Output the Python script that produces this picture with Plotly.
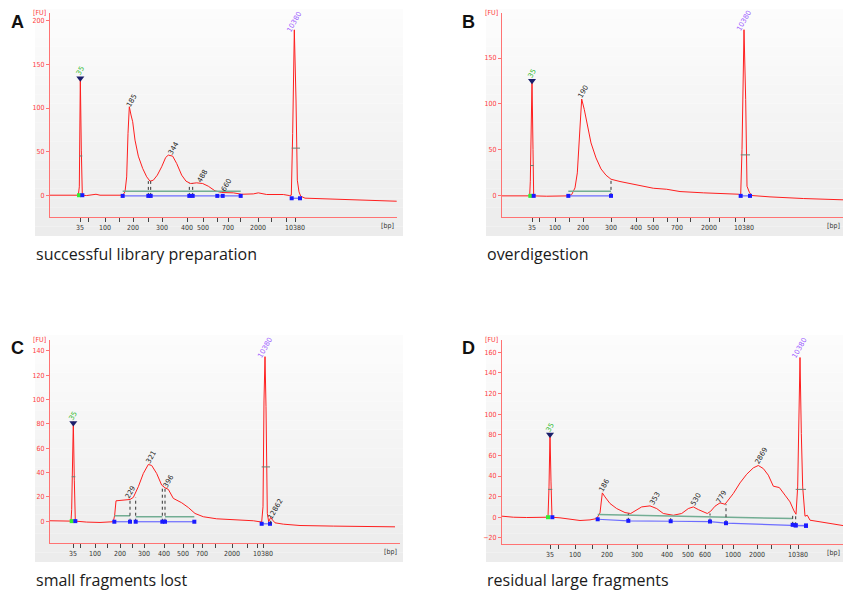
import plotly.graph_objects as go

W, H = 843, 591

# ---------------- DATA ----------------
# Ladder (High Sensitivity DNA) labels; "" = tick without label
ladder_labels_A = ["35", "", "100", "", "200", "", "300", "400", "500", "", "700", "", "2000", "", "", "10380"]
ladder_time_A = [47.5, 49.5, 53.75, 57.25, 60.75, 64.5, 68.0, 74.25, 78.25, 81.75, 84.5, 87.5, 92.0, 95.25, 99.0, 101.25]
ladder_labels_B = ["35", "", "100", "", "200", "300", "400", "500", "", "700", "", "2000", "", "", "10380"]
ladder_time_B = [47.5, 49.25, 53.25, 56.75, 60.25, 67.25, 73.5, 77.75, 81.25, 83.75, 87.0, 91.75, 94.25, 98.25, 100.5]
ladder_labels_C = ["35", "", "100", "", "200", "", "300", "400", "500", "", "700", "", "2000", "", "", "10380"]
ladder_time_C = [45.75, 47.5, 51.25, 54.25, 57.5, 60.5, 63.5, 68.5, 73.25, 75.75, 78.0, 81.25, 85.5, 89.25, 91.75, 93.25]
ladder_labels_D = ["35", "", "100", "", "200", "300", "400", "500", "600", "", "1000", "2000", "", "", "10380"]
ladder_time_D = [52.0, 54.0, 58.25, 62.5, 66.25, 73.75, 81.25, 86.5, 90.75, 95.0, 97.75, 103.75, 107.25, 112.0, 114.0]

# Electropherogram traces: migration time [s] and fluorescence [FU]
a_time = [40, 44.17, 47.08, 47.33, 47.58, 47.83, 48.08, 49.17, 50.83, 51.5, 52.5, 55.83, 58.17, 58.75,
          59.17, 59.5, 59.83, 60.25, 60.67, 61.25, 62.08, 63.17, 64.17, 65.0, 65.83, 66.83, 67.92, 68.92,
          69.58, 70.67, 71.67, 72.92, 74.0, 75.17, 76.67, 78.17, 79.58, 81.25, 82.92, 85.83, 87.92, 90.83,
          92.08, 94.17, 98.33, 99.83, 100.33, 100.67, 101.08, 101.5, 101.83, 102.25, 102.67, 103.75,
          110.83, 119.17, 126.67]
a_fu = [0, -0.4, 0, 9.6, 135.2, 51.7, 0, -0.4, 0.8, 1.1, 0, -0.4, 0, 3.8,
        21, 70.9, 101.5, 92, 84.3, 63.2, 44.8, 30.7, 21.1, 16.1, 17.2, 23, 32.6, 43.3,
        46, 44.8, 36.4, 23, 16.1, 13.4, 14.2, 13.4, 10.3, 5, 3.1, 2.7, 1.1, 1.5,
        2.7, 0.8, 0.8, -0.4, 0, 70.9, 189.7, 109.2, 17.2, 3.8, -1.1, -3.4,
        -4.6, -5.7, -6.9]

b_time = [40, 44.5, 46.92, 47.08, 47.25, 47.5, 47.75, 47.92, 51.17, 56.58, 57.42, 58.25, 58.83, 59.33,
          59.92, 60.58, 61.42, 62.25, 63.5, 64.75, 66.0, 67.25, 69.5, 73.67, 77.83, 81.17, 84.5, 90.33,
          99.08, 99.67, 100.0, 100.5, 100.92, 101.25, 101.83, 102.42, 107.0, 115.33, 125.25]
b_fu = [0, 0, 0, 15.9, 68.5, 126.4, 50.4, 0, -0.4, 0, 1.4, 8.7, 25, 68.5,
        105.4, 93.8, 73.9, 57.6, 41.3, 29.3, 22.5, 18.1, 15.6, 12, 8.3, 7.2, 4.7, 3.3,
        1.8, 0.4, 50.4, 180.8, 104.7, 10.5, 4, 0.4, -1.1, -2.9, -4.3]

c_time = [40, 44.17, 45.25, 45.42, 45.58, 45.83, 46.08, 46.33, 49.17, 52.5, 55.83, 56.17, 56.5, 57.92,
          60.0, 60.83, 62.08, 63.33, 64.58, 65.42, 66.67, 67.92, 68.75, 69.58, 70.83, 72.92, 74.58,
          76.25, 78.33, 81.67, 85.83, 90.83, 92.92, 93.25, 93.5, 93.75, 94.0, 94.33, 94.67, 95.17,
          95.67, 96.25, 98.33, 102.5, 110.83, 126.25]
c_fu = [0.3, 0, 0, 9.6, 44.7, 81.8, 33.7, 0, -0.8, -1.1, -0.5, 4.9, 16.7, 17.3,
        17.8, 19.5, 28.3, 39.2, 46.6, 45.8, 39.2, 29.6, 27.4, 26.1, 18.7, 15.1, 11.2,
        6.3, 3.6, 1.9, 1.1, 0.3, -0.8, 11.8, 99.6, 135.3, 94.1, 6.3, -0.5, 3,
        0.8, -1.4, -2.5, -3.6, -4.1, -4.7]

d_time = [40, 42.83, 46.17, 50.33, 51.5, 51.75, 52.0, 52.25, 52.5, 54.5, 57.0, 59.5, 62.0, 63.67,
          64.5, 65.08, 65.75, 67.0, 68.67, 70.75, 72.17, 73.67, 74.92, 77.0, 78.67, 80.33, 82.83,
          84.92, 86.58, 87.83, 89.08, 91.33, 92.17, 93.25, 94.5, 95.75, 96.58, 97.83, 99.5, 101.17,
          102.83, 104.08, 105.33, 106.58, 107.83, 109.33, 110.75, 112.0, 113.0, 113.5, 113.92, 114.17,
          114.5, 114.83, 115.17, 115.75, 116.33, 117.0, 119.5, 125.25]
d_fu = [1, 0, -0.3, -0.6, 0, 29.4, 81.2, 34.3, 0, -0.6, -1.9, -3.2, -2.6, -1.3,
        4.2, 23.6, 19.7, 13.3, 8.4, 4.5, 3.6, 6.8, 10, 11, 8.4, 3.6, 1.9,
        3.6, 8.4, 10, 7.4, 3.6, 5.8, 10.7, 13.9, 12.6, 16.5, 23, 33.3, 41.7,
        47.9, 50.2, 47.2, 40.8, 30.1, 28.8, 21.4, 14.9, 6.1, 2.9, 29.4, 81.2,
        155, 81.2, 29.4, 1, 1.9, -2.9, -4.5, -8.1]

# Peak calls (size labels): time, FU position, text
a_peak_t = [60.4, 71.0, 78.2, 84.2]
a_peak_fu = [108.4, 54, 22, 11.5]
a_peak_txt = ["185", "344", "488", "660"]
b_peak_t = [60.3]
b_peak_fu = [113]
b_peak_txt = ["190"]
c_peak_t = [60.0, 65.4, 69.75, 96.5]
c_peak_fu = [23.3, 52.4, 32.9, 9.6]
c_peak_txt = ["229", "321", "396", "12862"]
d_peak_t = [65.75, 78.25, 88.5, 94.9, 104.9]
d_peak_fu = [30.8, 17.5, 16.5, 19.7, 59.2]
d_peak_txt = ["186", "353", "530", "779", "2869"]

# Markers (lower 35 bp, upper 10380 bp): peak time, peak FU, label FU, half-height FU,
# marker window start/end time, baseline FU
marker_low = {"A": (47.58, 135.2, 142.5, 45, 47.25, 48.08, 0),
              "B": (47.5, 126.4, 132.6, 33, 47.08, 47.92, 0),
              "C": (45.83, 81.8, 86.4, 36.5, 45.42, 46.33, 0),
              "D": (52.0, 81.2, 86.7, 27, 51.5, 52.58, 0)}
marker_up = {"A": (101.08, 189.7, 199, 54, 100.42, 102.5, -3.5),
             "B": (100.5, 180.8, 190.5, 44.6, 99.67, 102.0, 0),
             "C": (93.75, 135.3, 142.6, 44.6, 92.92, 95.0, -2.2),
             "D": (114.5, 155, 163.8, 27, 113.42, 116.0, -8.0)}

# Smear/region analysis: boundaries, green region level, blue baseline level
a_region_t = [58.17, 64.58, 65.17, 74.83, 75.67, 81.83, 83.17, 87.67]
a_region_top = [16.1, 16.1, 13.4, 13.4]
a_green = 4.6
a_blue = -0.8
b_region_t = [56.58, 67.25]
b_green = 5
b_blue = 0
c_region_t = [56.08, 60.0, 61.42, 68.08, 68.75, 76.08]
c_region_top = [17.8, 19.5, 29.0, 27.4]
c_green = [4.4, 3.6, 3.6]
c_blue = -0.5
d_region_t = [63.92, 71.58, 82.17, 92.0, 96.0, 112.67, 113.42, 116.0]
d_region_blue = [-2.0, -3.5, -3.9, -4.2, -5.8, -7.4, -7.8, -8.4]
d_region_top = [3.6, 1.9, 3.6, 12.6, 3.0, 1.0]
d_green = [2.6, -1.3]

captions = ["successful library preparation", "overdigestion", "small fragments lost", "residual large fragments"]
letters = ["A", "B", "C", "D"]

# ---------------- LAYOUT GEOMETRY (pixels) ----------------
def px(x):
    return x / W

def py(y):
    return 1 - y / H

panels = {
    "A": dict(ax="x", ay="y", dom_x=(50, 397), dom_y=(13, 217), xr=(40, 126.75), yr=(-25, 209),
              yt=[0, 50, 100, 150, 200], bg=(35, 403, 9, 236), bp_x=397),
    "B": dict(ax="x2", ay="y2", dom_x=(502, 843), dom_y=(13, 217), xr=(40, 125.25), yr=(-23, 199),
              yt=[0, 50, 100, 150], bg=(486, 843, 9, 236), bp_x=843),
    "C": dict(ax="x3", ay="y3", dom_x=(50, 400), dom_y=(340, 543), xr=(40, 127.5), yr=(-18, 149),
              yt=[0, 20, 40, 60, 80, 100, 120, 140], bg=(35, 403, 335, 562), bp_x=400),
    "D": dict(ax="x4", ay="y4", dom_x=(502, 843), dom_y=(340, 544), xr=(40, 125.25), yr=(-26, 172),
              yt=[-20, 0, 20, 40, 60, 80, 100, 120, 140, 160], bg=(486, 843, 335, 562), bp_x=843),
}

RED = "#ff1f1f"
AXRED = "#ff7373"
GREEN_LINE = "#72ad93"
BLUE_LINE = "#6c6cff"
BLUE_PT = "#1a1aff"
HALF_TICK = "#6d7f72"

fig = go.Figure()
layout = dict(width=W, height=H, margin=dict(l=0, r=0, t=0, b=0), paper_bgcolor="white",
              plot_bgcolor="rgba(0,0,0,0)", showlegend=False, hovermode=False, shapes=[], annotations=[])

# gradient backgrounds
for key, p in panels.items():
    x0, x1, y0, y1 = p["bg"]
    n = 24
    for i in range(n):
        f = i / (n - 1)
        c = int(round(252 - 16 * f))
        layout["shapes"].append(dict(type="rect", xref="paper", yref="paper", layer="below",
                                     x0=px(x0), x1=px(x1),
                                     y0=py(y0 + (y1 - y0) * (i + 1) / n), y1=py(y0 + (y1 - y0) * i / n),
                                     fillcolor=f"rgb({c},{c},{c})", line=dict(width=0)))

ladders = {"A": (ladder_time_A, ladder_labels_A), "B": (ladder_time_B, ladder_labels_B),
           "C": (ladder_time_C, ladder_labels_C), "D": (ladder_time_D, ladder_labels_D)}
traces = {"A": (a_time, a_fu), "B": (b_time, b_fu), "C": (c_time, c_fu), "D": (d_time, d_fu)}
peaks = {"A": (a_peak_t, a_peak_fu, a_peak_txt), "B": (b_peak_t, b_peak_fu, b_peak_txt),
         "C": (c_peak_t, c_peak_fu, c_peak_txt), "D": (d_peak_t, d_peak_fu, d_peak_txt)}

for idx, (key, p) in enumerate(panels.items()):
    xa, ya = p["ax"], p["ay"]
    xname = "xaxis" + xa[1:]
    yname = "yaxis" + ya[1:]
    lt, ll = ladders[key]
    layout[xname] = dict(domain=[px(p["dom_x"][0]), px(p["dom_x"][1])], range=list(p["xr"]),
                         anchor=ya, showgrid=False, zeroline=False, showline=True, linecolor=AXRED,
                         linewidth=1, tickmode="array", tickvals=lt, ticktext=ll, ticks="outside",
                         ticklen=4, tickcolor="#444", tickwidth=1,
                         tickfont=dict(size=7, color="#333", family="DejaVu Sans Condensed, DejaVu Sans"),
                         fixedrange=True)
    layout[yname] = dict(domain=[py(p["dom_y"][1]), py(p["dom_y"][0])], range=list(p["yr"]),
                         anchor=xa, showgrid=False, zeroline=False, showline=True, linecolor=AXRED,
                         linewidth=1, tickmode="array", tickvals=p["yt"], ticks="outside", ticklen=3,
                         tickcolor=AXRED, tickfont=dict(size=7, color="#ff3b3b",
                                                        family="DejaVu Sans Condensed, DejaVu Sans"),
                         fixedrange=True)

    t, fu = traces[key]
    fig.add_trace(go.Scatter(x=t, y=fu, xaxis=xa, yaxis=ya, mode="lines",
                             line=dict(color=RED, width=1), hoverinfo="skip"))

    for which, mk, txtcol in (("35", marker_low[key], "#33bb33"), ("10380", marker_up[key], "#9d5cff")):
        tpk, fpk, flab, fhalf, ts, te, fb = mk
        fig.add_trace(go.Scatter(x=[ts, te], y=[fhalf, fhalf], xaxis=xa, yaxis=ya, mode="lines",
                                 line=dict(color=HALF_TICK, width=1), hoverinfo="skip"))
        layout["annotations"].append(dict(x=tpk, y=flab, xref=xa, yref=ya, text=which,
                                          showarrow=False, textangle=-60,
                                          font=dict(size=7, color=txtcol, family="DejaVu Sans")))
    lo = marker_low[key]
    fig.add_trace(go.Scatter(x=[lo[0]], y=[lo[1] - 1], xaxis=xa, yaxis=ya, mode="markers",
                             marker=dict(symbol="triangle-down", size=7, color="#1b1f6b"), hoverinfo="skip"))
    fig.add_trace(go.Scatter(x=[lo[4]], y=[lo[6]], xaxis=xa, yaxis=ya, mode="markers",
                             marker=dict(symbol="square", size=4, color="#33ee33"), hoverinfo="skip"))
    fig.add_trace(go.Scatter(x=[lo[5]], y=[lo[6]], xaxis=xa, yaxis=ya, mode="markers",
                             marker=dict(symbol="square", size=4, color=BLUE_PT), hoverinfo="skip"))
    up = marker_up[key]
    fig.add_trace(go.Scatter(x=[up[4], up[5]], y=[up[6], up[6]], xaxis=xa, yaxis=ya, mode="lines+markers",
                             line=dict(color=BLUE_LINE, width=1.2),
                             marker=dict(symbol="square", size=4, color=BLUE_PT), hoverinfo="skip"))

    pt, pf, ptxt = peaks[key]
    for a, b, s in zip(pt, pf, ptxt):
        layout["annotations"].append(dict(x=a, y=b, xref=xa, yref=ya, text=s, showarrow=False,
                                          textangle=-60, font=dict(size=7, color="#222", family="DejaVu Sans")))

    layout["annotations"].append(dict(x=px(p["dom_x"][0] - 11), y=py(p["dom_y"][0]), xref="paper", yref="paper",
                                      text="[FU]", showarrow=False, xanchor="center", yanchor="middle",
                                      font=dict(size=7, color="#ff3b3b", family="DejaVu Sans Condensed")))
    layout["annotations"].append(dict(x=px(p["bp_x"] - 1), y=py(p["dom_y"][1] + 9), xref="paper", yref="paper",
                                      text="[bp]", showarrow=False, xanchor="right", yanchor="middle",
                                      font=dict(size=7, color="#333", family="DejaVu Sans Condensed")))
    layout["annotations"].append(dict(x=px(p["bg"][0] - 18), y=py(p["bg"][2] + 13), xref="paper", yref="paper",
                                      text="<b>" + letters[idx] + "</b>", showarrow=False, xanchor="center",
                                      yanchor="middle", font=dict(size=18, color="#111", family="Liberation Sans")))
    layout["annotations"].append(dict(x=px(p["bg"][0] - 1), y=py(p["bg"][3] + 18), xref="paper", yref="paper",
                                      text=captions[idx], showarrow=False, xanchor="left", yanchor="middle",
                                      font=dict(size=16, color="#1a1a1a", family="Open Sans")))


def dotted(xs, ytop, ybot, xa, ya):
    X, Y = [], []
    for x, yt_, yb in zip(xs, ytop, ybot):
        X += [x, x, None]
        Y += [yb, yt_, None]
    fig.add_trace(go.Scatter(x=X, y=Y, xaxis=xa, yaxis=ya, mode="lines",
                             line=dict(color="#333", width=1, dash="dot"), hoverinfo="skip"))

# A
fig.add_trace(go.Scatter(x=[a_region_t[0], a_region_t[-1]], y=[a_green, a_green], xaxis="x", yaxis="y",
                         mode="lines", line=dict(color=GREEN_LINE, width=1.5), hoverinfo="skip"))
dotted(a_region_t[1:5], a_region_top, [a_blue] * 4, "x", "y")
fig.add_trace(go.Scatter(x=a_region_t, y=[a_blue] * len(a_region_t), xaxis="x", yaxis="y",
                         mode="lines+markers", line=dict(color=BLUE_LINE, width=1.2),
                         marker=dict(symbol="square", size=4, color=BLUE_PT), hoverinfo="skip"))
# B
fig.add_trace(go.Scatter(x=b_region_t, y=[b_green] * 2, xaxis="x2", yaxis="y2",
                         mode="lines", line=dict(color=GREEN_LINE, width=1.5), hoverinfo="skip"))
dotted([b_region_t[1]], [18.1], [b_blue], "x2", "y2")
fig.add_trace(go.Scatter(x=b_region_t, y=[b_blue] * 2, xaxis="x2", yaxis="y2",
                         mode="lines+markers", line=dict(color=BLUE_LINE, width=1.2),
                         marker=dict(symbol="square", size=4, color=BLUE_PT), hoverinfo="skip"))
# C
for i in range(3):
    fig.add_trace(go.Scatter(x=c_region_t[2 * i:2 * i + 2], y=[c_green[i]] * 2, xaxis="x3", yaxis="y3",
                             mode="lines", line=dict(color=GREEN_LINE, width=1.5), hoverinfo="skip"))
dotted(c_region_t[1:5], c_region_top, [c_blue] * 4, "x3", "y3")
for i in range(3):
    fig.add_trace(go.Scatter(x=c_region_t[2 * i:2 * i + 2], y=[c_blue] * 2, xaxis="x3", yaxis="y3",
                             mode="lines+markers", line=dict(color=BLUE_LINE, width=1.2),
                             marker=dict(symbol="square", size=4, color=BLUE_PT), hoverinfo="skip"))
dotted([95.17], [3.0], [-2.2], "x3", "y3")
# D
fig.add_trace(go.Scatter(x=[d_region_t[0], d_region_t[5]], y=d_green, xaxis="x4", yaxis="y4",
                         mode="lines", line=dict(color=GREEN_LINE, width=1.5), hoverinfo="skip"))
dotted(d_region_t[1:7], d_region_top, d_region_blue[1:7], "x4", "y4")
fig.add_trace(go.Scatter(x=d_region_t, y=d_region_blue, xaxis="x4", yaxis="y4",
                         mode="lines+markers", line=dict(color=BLUE_LINE, width=1.2),
                         marker=dict(symbol="square", size=4, color=BLUE_PT), hoverinfo="skip"))

fig.update_layout(**layout)
fig.write_html("out.html", config={"displayModeBar": False},
               post_script="document.body.style.margin='0px';document.body.style.overflow='hidden';")
